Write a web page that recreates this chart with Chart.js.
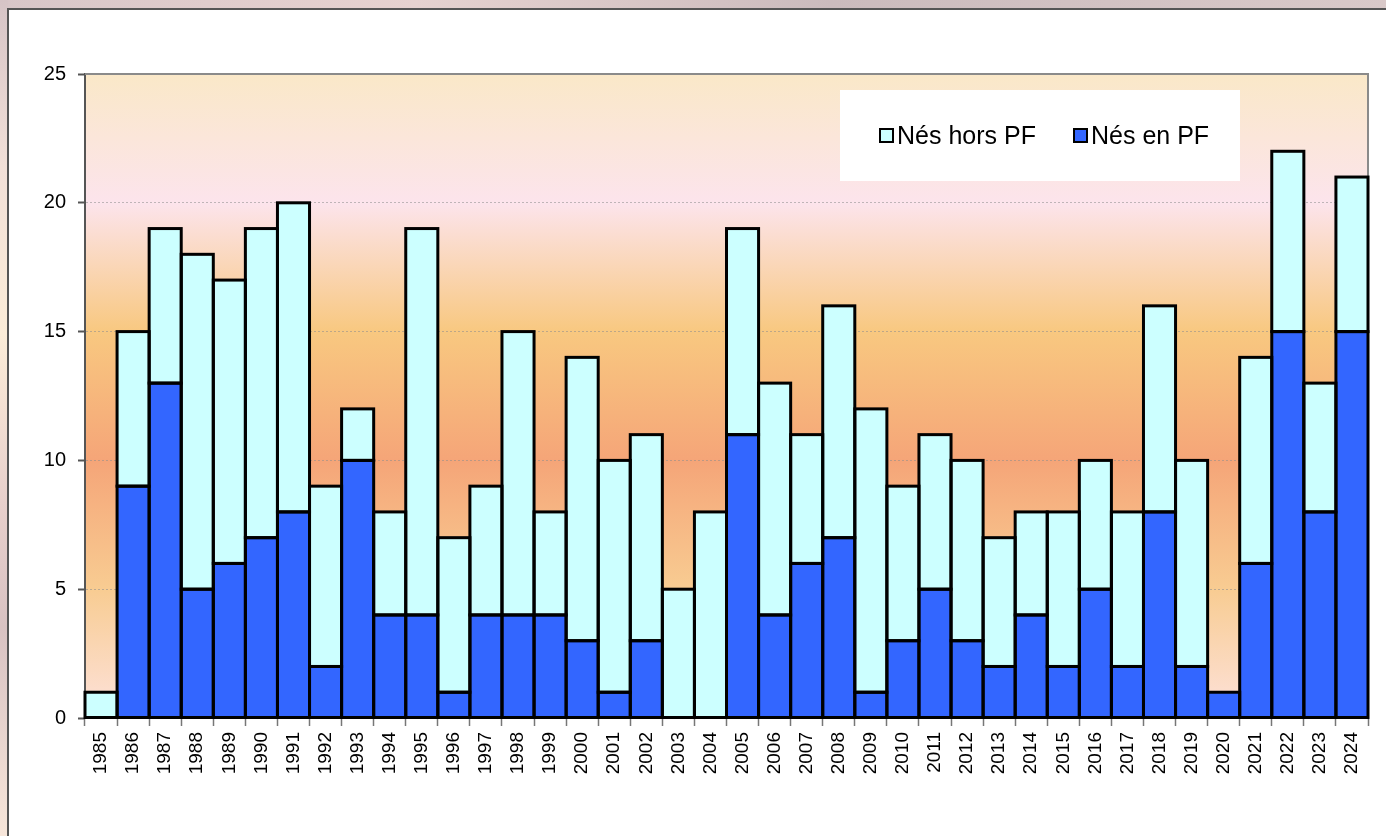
<!DOCTYPE html>
<html><head><meta charset="utf-8">
<script src="https://cdn.jsdelivr.net/npm/chart.js@4"></script>
<style>
html,body{margin:0;padding:0;width:1386px;height:836px;overflow:hidden;}
body{position:relative;background:linear-gradient(90deg,#d8c6c8 0%,#e6d2d0 30%,#cbbbbd 60%,#d9c9c9 100%);}
#tex{position:absolute;left:0;top:0;width:8px;height:836px;background:linear-gradient(180deg,#d6c4c6 0%,#f2e0d8 20%,#fbecd8 40%,#e8d0cc 60%,#d8c2c2 75%,#f7e6da 100%);}
#panel{position:absolute;left:7px;top:8px;width:1400px;height:900px;background:#fff;border-left:2px solid #555;border-top:2px solid #555;}
#wrap{position:absolute;left:0;top:0;width:1386px;height:836px;}
</style></head><body>
<div id="tex"></div>
<div id="panel"></div>
<div id="wrap"><canvas id="c" width="1386" height="836"></canvas></div>
<script>
const years = ['1985','1986','1987','1988','1989','1990','1991','1992','1993','1994','1995','1996','1997','1998','1999','2000','2001','2002','2003','2004','2005','2006','2007','2008','2009','2010','2011','2012','2013','2014','2015','2016','2017','2018','2019','2020','2021','2022','2023','2024'];
const nesEnPF   = [0,9,13,5,6,7,8,2,10,4,4,1,4,4,4,3,1,3,0,0,11,4,6,7,1,3,5,3,2,4,2,5,2,8,2,1,6,15,8,15];
const nesHorsPF = [1,6,6,13,11,12,12,7,2,4,15,6,5,11,4,11,9,8,5,8,8,9,5,9,11,6,6,7,5,4,6,5,6,8,8,0,8,7,5,6];
const labelEn = 'Nés en PF';
const labelHors = 'Nés hors PF';
const colorEn = '#3366ff';
const colorHors = '#ccffff';
const yTicksMax = 25, yStep = 5;

const FONT = '"Liberation Sans", Arial, sans-serif';

const bgPlugin = {
  id: 'bg',
  beforeDraw(chart) {
    const {ctx, chartArea: a} = chart;
    const g = ctx.createLinearGradient(0, a.top, 0, a.bottom);
    g.addColorStop(0.0, '#fae8c8');
    g.addColorStop(0.2, '#fce4ec');
    g.addColorStop(0.4, '#f8c880');
    g.addColorStop(0.6, '#f5a578');
    g.addColorStop(0.8, '#f8cc92');
    g.addColorStop(1.0, '#fde2dc');
    ctx.save();
    ctx.fillStyle = g;
    ctx.fillRect(a.left, a.top, a.right - a.left, a.bottom - a.top);
    ctx.restore();
  },
  afterDatasetsDraw(chart) {
    const {ctx, chartArea: a} = chart;
    ctx.save();
    ctx.strokeStyle = '#8a8a8a';
    ctx.lineWidth = 2;
    ctx.beginPath();
    ctx.moveTo(a.left, a.top);
    ctx.lineTo(a.right, a.top);
    ctx.lineTo(a.right, a.bottom);
    ctx.stroke();
    // bar outlines (centered on bar edges, from the library's bar elements)
    ctx.strokeStyle = '#000';
    ctx.lineWidth = 3;
    chart.data.datasets.forEach((ds, di) => {
      const meta = chart.getDatasetMeta(di);
      meta.data.forEach((bar, i) => {
        if (!ds.data[i]) return;
        const p = bar.getProps(['x', 'y', 'base', 'width'], true);
        ctx.strokeRect(p.x - p.width / 2, Math.min(p.y, p.base), p.width, Math.abs(p.base - p.y));
      });
    });
    // legend
    ctx.fillStyle = '#ffffff';
    ctx.fillRect(840, 90, 400, 91);
    const items = [
      {label: labelHors, color: colorHors, x: 880},
      {label: labelEn, color: colorEn, x: 1074}
    ];
    ctx.font = '25px ' + FONT;
    ctx.textBaseline = 'alphabetic';
    ctx.textAlign = 'left';
    items.forEach(it => {
      ctx.fillStyle = it.color;
      ctx.fillRect(it.x, 129, 13, 13);
      ctx.strokeStyle = '#000';
      ctx.lineWidth = 2;
      ctx.strokeRect(it.x, 129, 13, 13);
      ctx.fillStyle = '#000';
      ctx.fillText(it.label, it.x + 17, 144);
    });
    ctx.restore();
  }
};

new Chart(document.getElementById('c'), {
  type: 'bar',
  data: {
    labels: years,
    datasets: [
      {label: labelEn, data: nesEnPF, backgroundColor: colorEn, borderWidth: 0, barPercentage: 1, categoryPercentage: 1},
      {label: labelHors, data: nesHorsPF, backgroundColor: colorHors, borderWidth: 0, barPercentage: 1, categoryPercentage: 1}
    ]
  },
  options: {
    responsive: false,
    animation: false,
    devicePixelRatio: 1,
    layout: {padding: {top: 74, right: 18, left: 0, bottom: 0}},
    plugins: {legend: {display: false}, tooltip: {enabled: false}},
    scales: {
      x: {
        stacked: true,
        afterFit(s) { s.height = 118; },
        grid: {offset: true, drawOnChartArea: false, drawTicks: true, tickLength: 8, tickColor: '#777', tickWidth: 1.5},
        border: {display: true, color: '#000', width: 2},
        ticks: {autoSkip: false, minRotation: 90, maxRotation: 90, padding: 6, color: '#000', font: {family: FONT, size: 19}}
      },
      y: {
        stacked: true,
        min: 0, max: yTicksMax,
        afterFit(s) { s.width = 85; },
        grid: {color: 'rgba(140,140,140,0.55)', lineWidth: 1, tickLength: 7, tickColor: '#555', tickWidth: 2, drawTicks: true},
        border: {display: true, color: '#555', width: 2, dash: [2, 2]},
        ticks: {stepSize: yStep, padding: 12, color: '#000', font: {family: FONT, size: 20}}
      }
    }
  },
  plugins: [bgPlugin]
});
</script>
</body></html>
